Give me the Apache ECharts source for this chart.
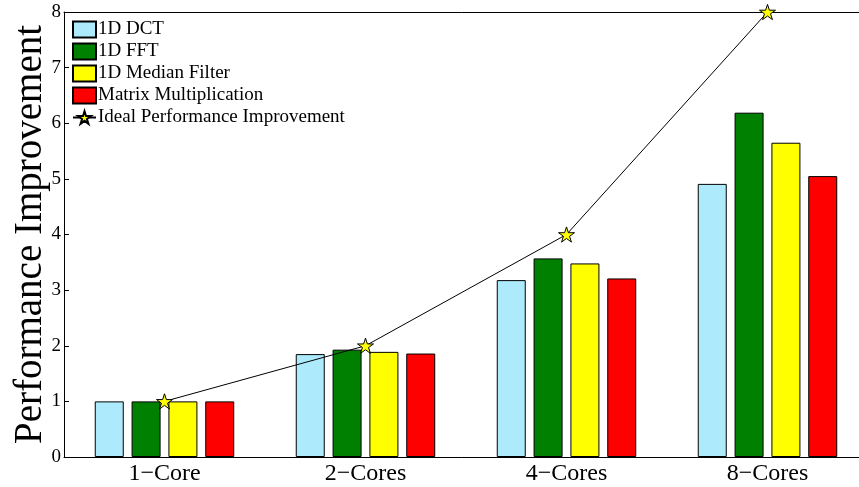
<!DOCTYPE html>
<html>
<head>
<meta charset="utf-8">
<script src="https://cdn.jsdelivr.net/npm/echarts@6/dist/echarts.min.js"></script>
<style>
  html, body { margin: 0; padding: 0; background: #fff; }
  #chart { width: 859px; height: 487px; }
</style>
</head>
<body>
<div id="chart"></div>
<script>
// Speed-up per benchmark for each core count
const categories = ['1\u2212Core', '2\u2212Cores', '4\u2212Cores', '8\u2212Cores'];
const dct = [1.00, 1.85, 3.18, 4.91];
const fft = [1.00, 1.93, 3.57, 6.19];
const median = [1.00, 1.89, 3.48, 5.65];
const matmul = [1.00, 1.86, 3.21, 5.05];
const ideal = [1, 2, 4, 8];
const yTicks = [0, 1, 2, 3, 4, 5, 6, 7, 8];

const serif = 'Liberation Serif';
const starPath = 'path://M50 0 L61.17 34.63 L97.55 34.55 L68.07 55.87 L79.39 90.45 L50 69 L20.61 90.45 L31.93 55.87 L2.45 34.55 L38.83 34.63 Z';

function barSeries(name, data, color) {
  return {
    name: name,
    type: 'bar',
    data: data,
    barWidth: 29,
    barGap: '27%',
    itemStyle: { color: color, borderColor: '#000', borderWidth: 1 },
    emphasis: { disabled: true }
  };
}

const chart = echarts.init(document.getElementById('chart'), null, { renderer: 'canvas' });
chart.setOption({
  animation: false,
  backgroundColor: '#fff',
  textStyle: { fontFamily: serif },
  // the plot box runs a little past the right edge of the page
  grid: { left: 64, top: 12, right: -9, bottom: 30, containLabel: false, outerBoundsMode: 'none' },
  legend: {
    orient: 'vertical',
    left: 72,
    top: 20,
    itemWidth: 23,
    itemHeight: 16,
    itemGap: 3,
    padding: 0,
    textStyle: { fontFamily: serif, fontSize: 19, color: '#000', padding: [0, 0, 0, -3] },
    data: [
      { name: '1D DCT', icon: 'rect' },
      { name: '1D FFT', icon: 'rect' },
      { name: '1D Median Filter', icon: 'rect' },
      { name: 'Matrix Multiplication', icon: 'rect' },
      { name: 'Ideal Performance Improvement' }
    ]
  },
  xAxis: [{
    type: 'category',
    data: categories,
    position: 'bottom',
    axisLine: { lineStyle: { color: '#000', width: 1 } },
    axisTick: { inside: true, alignWithLabel: true, length: 5, lineStyle: { color: '#000' } },
    axisLabel: { color: '#000', fontFamily: serif, fontSize: 24, margin: 5 },
    splitLine: { show: false }
  }, {
    type: 'category',
    data: categories,
    position: 'top',
    axisLine: { lineStyle: { color: '#000', width: 1 } },
    axisTick: { inside: true, alignWithLabel: true, length: 5, lineStyle: { color: '#000' } },
    axisLabel: { show: false },
    splitLine: { show: false }
  }],
  yAxis: {
    type: 'value',
    min: yTicks[0],
    max: yTicks[yTicks.length - 1],
    interval: 1,
    name: 'Performance Improvement',
    nameLocation: 'middle',
    nameGap: 14,
    nameMoveOverlap: false,
    nameTextStyle: { fontFamily: serif, fontSize: 39, color: '#000' },
    axisLine: { show: true, lineStyle: { color: '#000', width: 1 } },
    axisTick: { show: true, inside: true, length: 5, lineStyle: { color: '#000' } },
    axisLabel: { color: '#000', fontFamily: serif, fontSize: 19, margin: 3 },
    splitLine: { show: false }
  },
  series: [
    barSeries('1D DCT', dct, '#ADEBFC'),
    barSeries('1D FFT', fft, '#008000'),
    barSeries('1D Median Filter', median, '#FFFF00'),
    barSeries('Matrix Multiplication', matmul, '#FF0000'),
    {
      name: 'Ideal Performance Improvement',
      type: 'line',
      data: ideal,
      symbol: starPath,
      symbolSize: 16,
      symbolKeepAspect: true,
      lineStyle: { color: '#000', width: 1 },
      itemStyle: { color: '#FFFF00', borderColor: '#000', borderWidth: 1 },
      z: 5,
      emphasis: { disabled: true }
    }
  ]
});
</script>
</body>
</html>
